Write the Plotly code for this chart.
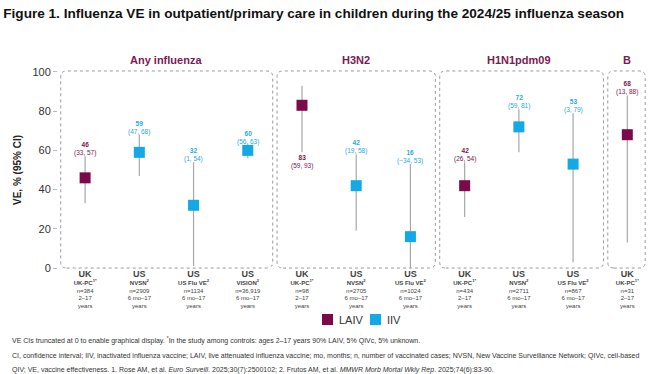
import plotly.graph_objects as go

# ---- data ----
categories_country = ["UK", "US", "US", "US", "UK", "US", "US", "UK", "US", "US", "UK"]
categories_study = ["UK-PC<sup>1*</sup>", "NVSN<sup>2</sup>", "US Flu VE<sup>2</sup>", "VISION<sup>2</sup>",
                    "UK-PC<sup>1*</sup>", "NVSN<sup>2</sup>", "US Flu VE<sup>2</sup>",
                    "UK-PC<sup>1*</sup>", "NVSN<sup>2</sup>", "US Flu VE<sup>2</sup>", "UK-PC<sup>1*</sup>"]
categories_n = ["n=384", "n=2909", "n=1134", "n=36,919", "n=98", "n=2705", "n=1024",
                "n=434", "n=2711", "n=867", "n=31"]
categories_age = ["2–17", "6 mo–17", "6 mo–17", "6 mo–17", "2–17", "6 mo–17", "6 mo–17",
                  "2–17", "6 mo–17", "6 mo–17", "2–17"]
vaccine = ["LAIV", "IIV", "IIV", "IIV", "LAIV", "IIV", "IIV", "LAIV", "IIV", "IIV", "LAIV"]
ve = [46, 59, 32, 60, 83, 42, 16, 42, 72, 53, 68]
ci_low = [33, 47, 1, 56, 59, 19, -34, 26, 59, 3, 13]
ci_high = [57, 68, 54, 63, 93, 58, 53, 54, 81, 79, 88]
panels = ["Any influenza", "H3N2", "H1N1pdm09", "B"]
panel_members = [[0, 1, 2, 3], [4, 5, 6], [7, 8, 9], [10]]
legend_names = ["LAIV", "IIV"]

colors = {"LAIV": "#7A0A4A", "IIV": "#12A9E6"}
label_colors = {"LAIV": "#7A1450", "IIV": "#2AA8DE"}
panel_title_color = "#7A1A55"
FONT = "Liberation Sans, Arial, sans-serif"

# pixel helpers for layout (plot area: x 58..649, y 70..270)
def px_x(px):
    return (px - 58) / 591

def px_y(py):
    return (270 - py) / 200

fig = go.Figure()

for vac in legend_names:
    idx = [i for i, v in enumerate(vaccine) if v == vac]
    ys = [ve[i] for i in idx]
    plus = [ci_high[i] - ve[i] for i in idx]
    minus = [ve[i] - max(0, ci_low[i]) for i in idx]
    fig.add_trace(go.Scatter(
        x=idx, y=ys, mode="markers", name=vac, showlegend=False,
        marker=dict(symbol="square", size=11, color=colors[vac], line=dict(width=0)),
        error_y=dict(type="data", symmetric=False, array=plus, arrayminus=minus,
                     color="#A8A8A8", thickness=1.2, width=0),
        cliponaxis=False,
    ))

# data labels
for i in range(len(ve)):
    lo = ci_low[i]
    lo_txt = f"−{abs(lo)}" if lo < 0 else str(lo)
    txt = f"<b>{ve[i]}</b><br>({lo_txt}, {ci_high[i]})"
    below = ci_high[i] > 90
    fig.add_annotation(
        x=i, y=(max(0, lo) if below else ci_high[i]), text=txt, showarrow=False,
        yanchor="top" if below else "bottom", yshift=0 if below else -3,
        font=dict(size=6.5, color=label_colors[vaccine[i]], family=FONT),
    )

# panel boxes & titles
pads = [(-0.45, 0.46), (-0.46, 0.46), (-0.46, 0.56), (-0.36, 0.33)]
rx, ry = 0.11, 3.0
for p, members in enumerate(panel_members):
    x0 = members[0] + pads[p][0]
    x1 = members[-1] + pads[p][1]
    y0, y1 = 0, 100.5
    path = (f"M {x0+rx},{y0} L {x1-rx},{y0} Q {x1},{y0} {x1},{y0+ry} "
            f"L {x1},{y1-ry} Q {x1},{y1} {x1-rx},{y1} L {x0+rx},{y1} "
            f"Q {x0},{y1} {x0},{y1-ry} L {x0},{y0+ry} Q {x0},{y0} {x0+rx},{y0} Z")
    fig.add_shape(type="path", path=path, xref="x", yref="y",
                  line=dict(color="#9A9A9A", width=1, dash="dot"), layer="below")
    fig.add_annotation(
        x=(members[0] + members[-1]) / 2, y=px_y(60), xref="x", yref="paper",
        text=f"<b>{panels[p]}</b>", showarrow=False, yanchor="middle",
        font=dict(size=11, color=panel_title_color, family=FONT),
    )

# legend (drawn as key squares + labels)
legend_px = [(322, 337), (370, 385)]
for name, (sq_px, tx_px) in zip(legend_names, legend_px):
    fig.add_shape(type="rect", xref="paper", yref="paper",
                  x0=px_x(sq_px), x1=px_x(sq_px + 11), y0=px_y(325), y1=px_y(314),
                  fillcolor=colors[name], line=dict(width=0))
    fig.add_annotation(x=px_x(tx_px), y=px_y(319.5), xref="paper", yref="paper",
                       xanchor="left", yanchor="middle", text=name, showarrow=False,
                       font=dict(size=11, color="#333333", family=FONT))

ticktext = [
    f"<span style='font-size:9px'><b>{categories_country[i]}</b></span><br>"
    f"<b>{categories_study[i]}</b><br>{categories_n[i]}<br>{categories_age[i]}<br>years"
    for i in range(len(ve))
]

fig.update_layout(
    width=650, height=374,
    margin=dict(l=58, r=1, t=70, b=104),
    paper_bgcolor="white", plot_bgcolor="white",
    font=dict(family=FONT, color="#333333"),
    showlegend=False,
    title=dict(
        text="<b>Figure 1. Influenza VE in outpatient/primary care in children during the 2024/25 influenza season</b>",
        x=0.005, xanchor="left", y=0.965, yanchor="middle",
        font=dict(size=13.6, family="Liberation Sans Narrow, Arial Narrow, sans-serif", color="#111111"),
    ),
    xaxis=dict(
        range=[-0.5, 10.4], tickmode="array", tickvals=list(range(len(ve))), ticktext=ticktext,
        showgrid=False, zeroline=False, showline=False, ticks="",
        tickfont=dict(size=6, color="#444444", family=FONT),
    ),
    yaxis=dict(
        range=[-1, 101], tickmode="array", tickvals=[0, 20, 40, 60, 80, 100],
        showgrid=False, zeroline=False, showline=False, ticks="outside", ticklen=4,
        tickcolor="#BBBBBB", tickfont=dict(size=11, color="#333333", family=FONT),
        title=dict(text="<b>VE, % (95% CI)</b>", font=dict(size=10, color="#222222", family=FONT),
                   standoff=8),
    ),
)

footnotes = [
    "VE CIs truncated at 0 to enable graphical display. <sup>*</sup>In the study among controls: ages 2–17 years 90% LAIV, 5% QIVc, 5% unknown.",
    "CI, confidence interval; IIV, inactivated influenza vaccine; LAIV, live attenuated influenza vaccine; mo, months; n, number of vaccinated cases; NVSN, New Vaccine Surveillance Network; QIVc, cell-based",
    "QIV; VE, vaccine effectiveness. 1. Rose AM, et al. <i>Euro Surveill</i>. 2025;30(7):2500102; 2. Frutos AM, et al. <i>MMWR Morb Mortal Wkly Rep</i>. 2025;74(6):83-90.",
]
foot_y_px = [340, 356, 370]
for txt, ypx in zip(footnotes, foot_y_px):
    fig.add_annotation(
        x=px_x(10), y=px_y(ypx), xref="paper", yref="paper",
        xanchor="left", yanchor="middle", text=txt, showarrow=False,
        font=dict(size=7, color="#333333", family=FONT),
    )

fig.write_html("out.html")
